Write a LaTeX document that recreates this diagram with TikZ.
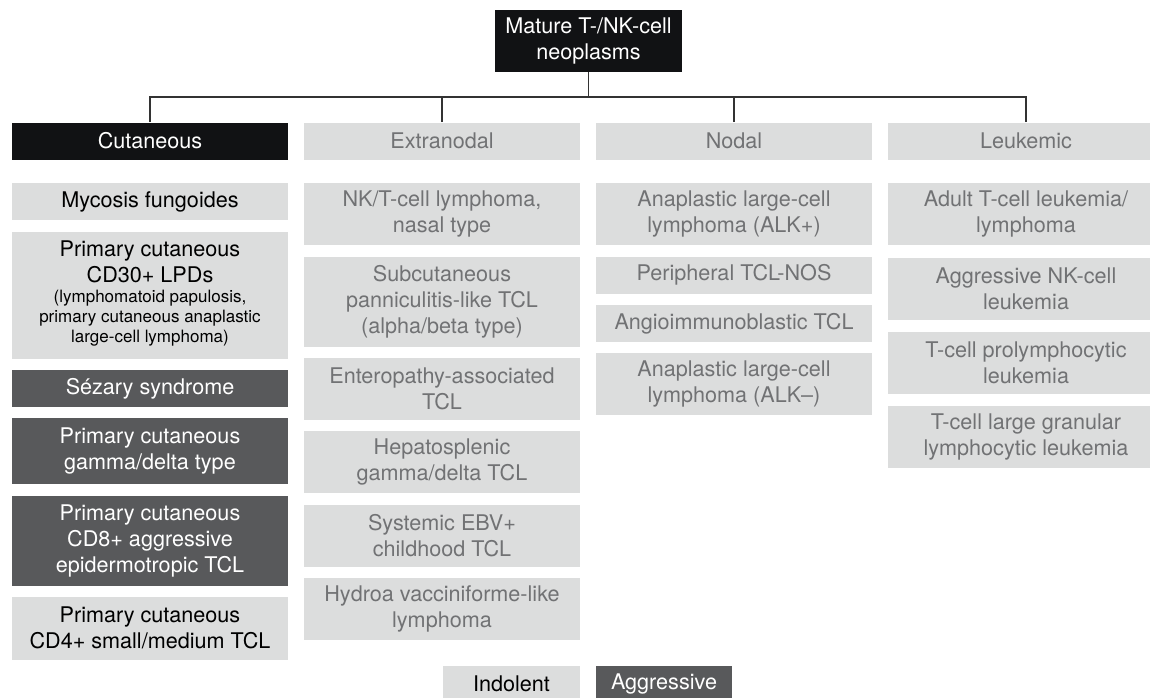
\documentclass[tikz,border=0pt]{standalone}
\usepackage{fontspec}
\setmainfont{TeX Gyre Heros}
\usepackage{xcolor}
\definecolor{nearblack}{HTML}{111214}
\definecolor{boxgrey}{HTML}{DCDDDD}
\definecolor{darkgrey}{HTML}{58595B}
\definecolor{textgrey}{HTML}{717274}
\definecolor{linegrey}{HTML}{333333}
\usetikzlibrary{positioning}
\newcommand{\smallfont}{\fontsize{8.5}{10}\selectfont}
\tikzset{
    cell/.style={
        rectangle, inner sep=0pt,
        minimum width=138pt, minimum height=18.5pt,
        align=center, font=\fontsize{10.8}{13}\selectfont
    },
    twoline/.style={minimum height=31pt},
    threeline/.style={minimum height=45pt},
    root/.style={cell, fill=nearblack, text=white,
        minimum width=93.5pt, minimum height=31pt},
    cathead/.style={cell, fill=nearblack, text=white},
    group/.style={cell, fill=boxgrey, text=textgrey},
    indolent/.style={cell, fill=boxgrey, text=black},
    aggressive/.style={cell, fill=darkgrey, text=white},
    other/.style={cell, fill=boxgrey, text=textgrey},
    conn/.style={draw=linegrey, line width=0.75pt},
}
\begin{document}
\begin{tikzpicture}[x=0.5pt, y=-0.5pt]
    \clip (0,0) rectangle (1150,697);
    \node[root] (mature) at (588.5,41) {Mature T-/NK-cell\\neoplasms};
    \coordinate (bus) at (0,97);

    % category headers
    \node[cathead] (cut) at (150,141) {Cutaneous};
    \node[group] (extra) at (442,141) {Extranodal};
    \node[group] (nodal) at (734,141) {Nodal};
    \node[group] (leuk) at (1026,141) {Leukemic};

    \foreach \c in {cut, extra, nodal, leuk}
        \draw[conn] (\c.north) -- (\c.north|-bus) -| (mature.south);

    % cutaneous
    \node[indolent, below=11.5pt of cut] (myc) {Mycosis fungoides};
    \node[indolent, minimum height=63.5pt, below=5.25pt of myc] (cdthirty)
        {Primary cutaneous\\CD30+ LPDs\\[-3pt]\smallfont\begin{tabular}[t]{@{}c@{}}(lymphomatoid papulosis,\\primary cutaneous anaplastic\\large-cell lymphoma)\end{tabular}};
    \node[aggressive, below=5.25pt of cdthirty] (sezary) {Sézary syndrome};
    \node[aggressive, minimum height=33pt, below=5.25pt of sezary] (gammadelta)
        {Primary cutaneous\\gamma/delta type};
    \node[aggressive, threeline, below=5.25pt of gammadelta] (cdeight)
        {Primary cutaneous\\CD8+ aggressive\\epidermotropic TCL};
    \node[indolent, minimum height=31.5pt, below=5.25pt of cdeight] (cdfour)
        {Primary cutaneous\\CD4+ small/medium TCL};

    % extranodal
    \node[other, twoline, below=11.5pt of extra] (nkt) {NK/T-cell lymphoma,\\nasal type};
    \node[other, threeline, below=5.25pt of nkt] (subcut)
        {Subcutaneous\\panniculitis-like TCL\\(alpha/beta type)};
    \node[other, twoline, below=5.25pt of subcut] (entero) {Enteropathy-associated\\TCL};
    \node[other, twoline, below=5.25pt of entero] (hepato) {Hepatosplenic\\gamma/delta TCL};
    \node[other, twoline, below=5.25pt of hepato] (ebv) {Systemic EBV+\\childhood TCL};
    \node[other, twoline, below=5.25pt of ebv] (hydroa) {Hydroa vacciniforme-like\\lymphoma};

    % nodal
    \node[other, twoline, below=11.5pt of nodal] (alkpos) {Anaplastic large-cell\\lymphoma (ALK+)};
    \node[other, below=5.25pt of alkpos] (ptcl) {Peripheral TCL-NOS};
    \node[other, below=5.25pt of ptcl] (aitl) {Angioimmunoblastic TCL};
    \node[other, twoline, below=5.25pt of aitl] (alkneg) {Anaplastic large-cell\\lymphoma (ALK–)};

    % leukemic
    \node[other, twoline, below=11.5pt of leuk] (atll) {Adult T-cell leukemia/\\lymphoma};
    \node[other, twoline, below=5.75pt of atll] (ankl) {Aggressive NK-cell\\leukemia};
    \node[other, twoline, below=5.75pt of ankl] (tpll) {T-cell prolymphocytic\\leukemia};
    \node[other, twoline, below=5.75pt of tpll] (tlgl) {T-cell large granular\\lymphocytic leukemia};

    % legend
    \node[indolent, minimum width=68.5pt, minimum height=18pt] (indleg) at (511.5,684) {Indolent};
    \node[aggressive, minimum width=68pt, minimum height=18pt] (aggleg) at (664,684) {Aggressive};
\end{tikzpicture}
\end{document}
